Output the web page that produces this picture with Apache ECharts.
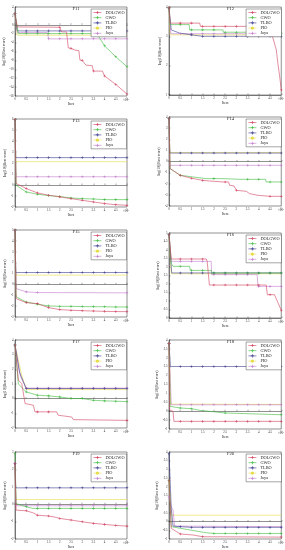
<!DOCTYPE html>
<html><head><meta charset="utf-8">
<script src="https://cdn.jsdelivr.net/npm/echarts@6/dist/echarts.min.js"></script>
<style>html,body{margin:0;padding:0;background:#fff}#c{width:285px;height:550px}</style>
</head><body><div id="c"></div>
<script>
// ---- data ----
const algos = ['DOLGWO','GWO','TLBO','PIO','Jaya'];
const funcs = ['F11','F12','F13','F14','F15','F16','F17','F18','F19','F20'];
const xTicks = [0,0.5,1,1.5,2,2.5,3,3.5,4,4.5,5];
const yMins = [-16, 1, -2, -4, -3, 0, -2, -1, -2, -1];
const yMaxs = [4, 4, 6, 4, 5, 5, 4, 4, 3, 4];
const yIntervals = [2, 1, 1, 1, 1, 0.5, 1, 0.5, 1, 0.5];

const F11_DOLGWO = [[0,2.5],[0.1,-0.48],[2.0,-0.55],[2.08,-1.6],[2.3,-1.6],[2.38,-5.18],[2.5,-5.3],[2.68,-5.7],[2.85,-5.8],[2.9,-7.94],[3.0,-8.0],[3.17,-9.06],[3.45,-9.2],[3.5,-10.4],[3.9,-10.4],[4.0,-11.5],[4.5,-13.4],[5,-15.55]];
const F11_GWO = [[0,2.5],[0.15,-1.97],[3.65,-1.97],[4.0,-4.73],[4.5,-7.19],[5,-9.43]];
const F11_TLBO = [[0,2.5],[0.1,-1.37],[5,-1.37]];
const F11_PIO = [[0,2.5],[0.1,-2.34],[5,-2.34]];
const F11_Jaya = [[0,2.5],[0.1,-1.75],[1.45,-1.75],[1.5,-3.16],[5,-3.16]];

const F12_DOLGWO = [[0,3.97],[0.05,3.45],[1.37,3.45],[1.4,3.34],[4.55,3.34],[4.63,2.94],[4.78,2.54],[4.85,2.08],[4.93,1.63],[5,1.17]];
const F12_GWO = [[0,3.97],[0.05,3.4],[0.9,3.4],[0.92,3.22],[2.4,3.22],[2.42,3.14],[3.44,3.14],[3.46,3.11],[5,3.11]];
const F12_TLBO = [[0,3.97],[0.1,3.22],[0.47,3.11],[1.0,3.05],[1.07,3.0],[5,3.0]];
const F12_PIO = [[0,3.97],[0.05,3.05],[5,3.05]];
const F12_Jaya = [[0,3.97],[0.08,3.09],[5,3.09]];

const F13_DOLGWO = [[0,5.94],[0.05,0.14],[0.5,-0.32],[1,-0.72],[1.5,-0.93],[2,-1.08],[2.5,-1.24],[3,-1.39],[3.5,-1.54],[4,-1.69],[4.5,-1.79],[5,-1.85]];
const F13_GWO = [[0,5.94],[0.05,-0.02],[0.5,-0.63],[1,-0.84],[1.5,-0.96],[2,-1.05],[2.5,-1.18],[3,-1.24],[3.5,-1.27],[4,-1.33],[4.5,-1.33],[5,-1.33]];
const F13_TLBO = [[0,5.94],[0.03,2.49],[5,2.49]];
const F13_PIO = [[0,5.94],[0.03,2.12],[5,2.12]];
const F13_Jaya = [[0,5.94],[0.03,0.75],[5,0.75]];

const F14_DOLGWO = [[0,3.85],[0.05,-0.64],[0.5,-1.24],[1.0,-1.5],[1.07,-1.63],[1.5,-1.7],[1.81,-1.75],[2.4,-1.84],[2.65,-1.84],[2.7,-2.14],[2.9,-2.2],[3.0,-2.59],[3.44,-2.68],[3.59,-2.89],[3.96,-3.04],[4.04,-3.13],[5,-3.13]];
const F14_GWO = [[0,3.85],[0.05,-0.64],[0.5,-1.24],[1.07,-1.39],[1.66,-1.54],[2.4,-1.54],[3.15,-1.6],[4.3,-1.6],[4.33,-1.84],[5,-1.84]];
const F14_TLBO = [[0,3.85],[0.03,0.76],[5,0.76]];
const F14_PIO = [[0,3.85],[0.03,0.8],[5,0.8]];
const F14_Jaya = [[0,3.85],[0.03,-0.34],[5,-0.34]];

const F15_DOLGWO = [[0,5],[0.05,-1.31],[0.5,-1.68],[1,-1.77],[1.5,-2.14],[2,-2.32],[2.5,-2.38],[3,-2.42],[3.5,-2.45],[4,-2.48],[4.5,-2.5],[5,-2.51]];
const F15_GWO = [[0,5],[0.05,-1.15],[0.5,-1.62],[1,-1.83],[1.5,-1.98],[2,-2.02],[2.5,-2.02],[3,-2.04],[3.5,-2.05],[4,-2.06],[4.5,-2.08],[5,-2.08]];
const F15_TLBO = [[0,5],[0.03,1.09],[5,1.09]];
const F15_PIO = [[0,5],[0.03,0.85],[5,0.85]];
const F15_Jaya = [[0,5],[0.05,-0.38],[0.5,-0.69],[1,-0.75],[5,-0.78]];

const F16_DOLGWO = [[0,4.9],[0.1,3.47],[1.66,3.47],[1.7,3.33],[1.78,3.33],[1.8,1.94],[4.33,1.94],[4.38,1.37],[4.7,1.37],[5,0.45]];
const F16_GWO = [[0,4.9],[0.1,3.2],[0.18,3.04],[0.92,3.04],[0.95,2.8],[1.88,2.8],[1.9,2.65],[5,2.65]];
const F16_TLBO = [[0,4.9],[0.12,2.65],[5,2.65]];
const F16_PIO = [[0,4.9],[0.1,2.6],[5,2.6]];
const F16_Jaya = [[0,4.9],[0.1,3.33],[1.88,3.33],[1.9,2.55],[3.93,2.55],[3.96,1.86],[5,1.86]];

const F17_DOLGWO = [[0,3.66],[0.15,1.26],[0.3,1.03],[0.45,-0.33],[0.82,-0.45],[0.89,-0.9],[1.86,-0.9],[1.93,-1.13],[2.53,-1.25],[2.6,-1.43],[5,-1.48]];
const F17_GWO = [[0,3.66],[0.15,1.0],[0.5,0.46],[1,0.24],[1.5,0.19],[2,0.12],[2.5,0.01],[3,0.01],[3.5,-0.11],[4,-0.15],[4.5,-0.17],[5,-0.2]];
const F17_TLBO = [[0,3.66],[0.2,1.8],[0.5,0.69],[5,0.69]];
const F17_PIO = [[0,3.66],[0.3,1.6],[0.5,0.62],[5,0.62]];
const F17_Jaya = [[0,3.66],[0.25,1.5],[0.5,0.72],[5,0.72]];

const F18_DOLGWO = [[0,3.81],[0.03,0.08],[0.18,-0.01],[0.22,-0.57],[5,-0.57]];
const F18_GWO = [[0,3.81],[0.05,0.27],[0.5,0.18],[1,0.14],[1.37,0.05],[1.4,-0.01],[2.5,-0.1],[5,-0.2]];
const F18_TLBO = [[0,3.81],[0.06,2.51],[5,2.51]];
const F18_PIO = [[0,3.81],[0.08,0.4],[5,0.38]];
const F18_Jaya = [[0,3.81],[0.1,0.36],[5,0.36]];

const F19_DOLGWO = [[0,2.33],[0.05,-0.34],[0.5,-0.38],[0.8,-0.49],[1,-0.63],[1.5,-0.68],[1.85,-0.76],[2,-0.82],[2.5,-0.91],[3,-1.01],[3.5,-1.1],[4,-1.16],[4.5,-1.22],[5,-1.26]];
const F19_GWO = [[0,2.9],[0.05,0.04],[0.5,-0.15],[0.8,-0.24],[5,-0.24]];
const F19_TLBO = [[0,2.33],[0.03,0.94],[5,0.94]];
const F19_PIO = [[0,2.33],[0.03,0.27],[5,0.27]];
const F19_Jaya = [[0,2.33],[0.04,-0.09],[5,-0.09]];

const F20_DOLGWO = [[0,2.38],[0.1,-0.39],[0.5,-0.71],[1.07,-0.77],[1.5,-0.87],[5,-0.89]];
const F20_GWO = [[0,2.38],[0.1,-0.29],[0.92,-0.48],[1.66,-0.64],[2,-0.68],[5,-0.68]];
const F20_TLBO = [[0,3.9],[0.1,0.76],[0.18,-0.26],[0.5,-0.29],[1,-0.33],[5,-0.33]];
const F20_PIO = [[0,2.38],[0.1,0.37],[5,0.37]];
const F20_Jaya = [[0,1.42],[0.1,0.85],[0.18,0.66],[0.25,-0.26],[5,-0.29]];

const curves = [
  [F11_DOLGWO,F11_GWO,F11_TLBO,F11_PIO,F11_Jaya],
  [F12_DOLGWO,F12_GWO,F12_TLBO,F12_PIO,F12_Jaya],
  [F13_DOLGWO,F13_GWO,F13_TLBO,F13_PIO,F13_Jaya],
  [F14_DOLGWO,F14_GWO,F14_TLBO,F14_PIO,F14_Jaya],
  [F15_DOLGWO,F15_GWO,F15_TLBO,F15_PIO,F15_Jaya],
  [F16_DOLGWO,F16_GWO,F16_TLBO,F16_PIO,F16_Jaya],
  [F17_DOLGWO,F17_GWO,F17_TLBO,F17_PIO,F17_Jaya],
  [F18_DOLGWO,F18_GWO,F18_TLBO,F18_PIO,F18_Jaya],
  [F19_DOLGWO,F19_GWO,F19_TLBO,F19_PIO,F19_Jaya],
  [F20_DOLGWO,F20_GWO,F20_TLBO,F20_PIO,F20_Jaya]
];

// ---- styles / layout ----
const colors = ['#d2415f','#3dbb3d','#3b3b8f','#e6dc46','#c27ccd'];
const hasMarker = [true,true,true,false,true];
const plusPath = 'path://M4,0h2v4h4v2h-4v4h-2v-4h-4v-2h4z';
const lefts = [15,169];
const widths = [112,113];
const topsL = [7,119,230,340,452], topsR = [7,117,233,340,452];
const hL = [89,88,87,88,87], hR = [88,89,85,89,87];
const FONT = '"Liberation Serif","Times New Roman",serif';

// repeat the constant value on flat segments so that markers appear at ticks
function expand(pts){
  const out=[];
  for(let i=0;i<pts.length;i++){
    out.push(pts[i]);
    if(i<pts.length-1 && pts[i][1]===pts[i+1][1]){
      for(let t=Math.floor(pts[i][0]*2)+1; t/2 < pts[i+1][0]-1e-9; t++){
        if(t/2 > pts[i][0]+1e-9) out.push([t/2, pts[i][1]]);
      }
    }
  }
  return out;
}
function isTick(x){ return Math.abs(x*2-Math.round(x*2))<1e-6; }

const grid=[], xAxis=[], yAxis=[], series=[], title=[], legend=[], graphic=[];
for(let k=0;k<10;k++){
  const col=k%2, row=Math.floor(k/2);
  const left=lefts[col], width=widths[col];
  const top = col===0?topsL[row]:topsR[row];
  const height = col===0?hL[row]:hR[row];
  grid.push({left:left, top:top, width:width, height:height, show:true, borderColor:'#222', borderWidth:0.5, backgroundColor:'#fff'});
  xAxis.push({type:'value', gridIndex:k, min:xTicks[0], max:xTicks[xTicks.length-1], interval:0.5,
    name:'Iters', nameLocation:'middle', nameGap:6, nameTextStyle:{fontSize:3.6, fontFamily:FONT, color:'#222'},
    axisLine:{lineStyle:{color:'#222', width:0.5}}, axisTick:{inside:true, length:1.5, lineStyle:{width:0.4}},
    axisLabel:{fontSize:3, margin:1.5, color:'#333', fontFamily:FONT}, splitLine:{show:false}});
  yAxis.push({type:'value', gridIndex:k, min:yMins[k], max:yMaxs[k], interval:yIntervals[k],
    name:'log(10)(Best score)', nameLocation:'middle', nameRotate:90, nameGap:7,
    nameTextStyle:{fontSize:3.6, fontFamily:FONT, color:'#222'},
    axisLine:{lineStyle:{color:'#222', width:0.5}}, axisTick:{inside:true, length:1.5, lineStyle:{width:0.4}},
    axisLabel:{fontSize:3, margin:1.5, color:'#333', fontFamily:FONT}, splitLine:{show:false}});
  title.push({text:funcs[k], left:left+width/2, top:top-5.5, textAlign:'center',
    textStyle:{fontSize:4.6, fontWeight:'normal', fontFamily:FONT, color:'#222'}});
  legend.push({data:algos, orient:'vertical', right:285-(left+width)+0.5, top:top+2,
    itemWidth:8, itemHeight:4, itemGap:1.2, padding:[1.5,2,1.5,2],
    backgroundColor:'#fff', borderColor:'#222', borderWidth:0.4,
    lineStyle:{width:0.6}, itemStyle:{borderWidth:0},
    textStyle:{fontSize:4.3, fontFamily:FONT, color:'#222', padding:[0,0,0,-1]}});
  graphic.push({type:'text', left:left+width-4, top:top+height+3,
    style:{text:'×10⁴', fontSize:3.2, fontFamily:FONT, fill:'#333'}});
  const order=[3,4,2,1,0];
  for(const a of order){
    series.push({
      type:'line', name:algos[a], xAxisIndex:k, yAxisIndex:k,
      data:expand(curves[k][a]),
      symbol: hasMarker[a]?plusPath:'none',
      symbolSize: hasMarker[a]? function(v){ return isTick(v[0])?2.6:0; } : 0,
      showSymbol: hasMarker[a], showAllSymbol:true,
      itemStyle:{color:colors[a]},
      lineStyle:{color:colors[a], width:0.6},
      emphasis:{disabled:true}, silent:true, z:2
    });
  }
}

const chart = echarts.init(document.getElementById('c'), null, {renderer:'canvas'});
chart.setOption({animation:false, backgroundColor:'#fff', grid, xAxis, yAxis, series, title, legend, graphic});
</script></body></html>
